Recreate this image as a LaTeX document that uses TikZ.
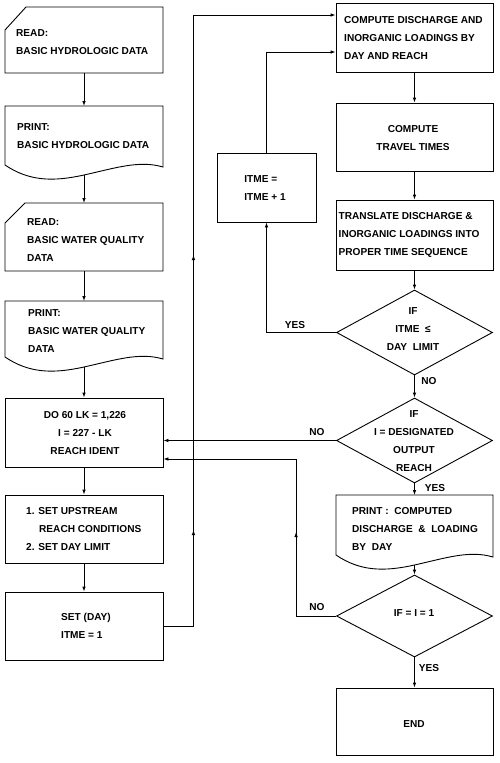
\documentclass[tikz,border=0pt]{standalone}
\usepackage{fontspec}
\setmainfont{Liberation Sans}
\usetikzlibrary{arrows.meta,shapes.geometric,decorations.markings,calc}
\newcommand\tf{\fontsize{10.1pt}{18pt}\selectfont\bfseries}
\newcommand\docshape[1]{\draw[ln] (#1.north west) -- (#1.north east) -- ([yshift=8pt]#1.south east)
  .. controls ($(#1.south west)!0.85!(#1.south east)+(0,-15)$) and ($(#1.south west)!0.7!(#1.south east)+(0,-7)$) .. (#1.south)
  .. controls ($(#1.south west)!0.3!(#1.south east)+(0,7)$) and ($(#1.south west)!0.15!(#1.south east)+(0,6)$) .. ([yshift=10pt]#1.south west) -- cycle;}
\begin{document}
\begin{tikzpicture}[x=1pt,y=-1pt,
  ln/.style={line width=0.9pt},
  box/.style={draw,rectangle,inner sep=0pt,line width=0.9pt},
  shp/.style={rectangle,inner sep=0pt,outer sep=0pt},
  dia/.style={draw,diamond,inner sep=0pt,line width=0.9pt},
  txt/.style={font=\tf,inner sep=0pt,align=left},
  tip/.tip={Latex[length=5pt,width=3.6pt]},
  arr/.style={ln,-tip},
  lcol/.style={minimum width=158pt},
  rcol/.style={minimum width=157pt}]
\fill[white] (0,0) rectangle (500,763);
\useasboundingbox (0,0) rectangle (500,763);

% left column
\node[shp,lcol,minimum height=66pt] (n1) at (84,40) {};
\draw[ln] (n1.south west) -- (n1.south east) -- (n1.north east) -- ([xshift=21pt]n1.north west) -- ([yshift=-23pt]n1.north west) -- cycle;
\node[txt,anchor=west] (t1) at (16,42) {READ:\\BASIC HYDROLOGIC DATA};

\node[shp,lcol,minimum height=69pt] (n2) at (84,140.5) {};
\docshape{n2}
\node[txt,anchor=west] (t2) at (17,136) {PRINT:\\BASIC HYDROLOGIC DATA};

\node[shp,lcol,minimum height=68pt] (n3) at (84,237) {};
\draw[ln] (n3.south west) -- (n3.south east) -- (n3.north east) -- ([xshift=20pt]n3.north west) -- ([yshift=-20pt]n3.north west) -- cycle;
\node[txt,anchor=west] (t3) at (27,240) {READ:\\BASIC WATER QUALITY\\DATA};

\node[shp,lcol,minimum height=66pt] (n4) at (84,334) {};
\docshape{n4}
\node[txt,anchor=west] (t4) at (28,331) {PRINT:\\BASIC WATER QUALITY\\DATA};

\node[box,lcol,minimum height=69pt] (n5) at (84,432.5) {};
\node[txt,align=center] (t5) at (85,433) {DO 60 LK = 1,226\\I = 227 - LK\\REACH IDENT};

\node[box,lcol,minimum height=68pt] (n6) at (84,529) {};
\node[txt,anchor=west] (t6) at (26,529) {1. SET UPSTREAM\\\hspace*{13pt}REACH CONDITIONS\\2. SET DAY LIMIT};

\node[box,lcol,minimum height=68pt] (n7) at (84,626) {};
\node[txt] (t7) at (86,626) {SET (DAY)\\ITME = 1};

% right column
\node[box,rcol,minimum height=69pt] (n8) at (414.5,37.5) {};
\node[txt,anchor=west] (t8) at (344,38) {COMPUTE DISCHARGE AND\\INORGANIC LOADINGS BY\\DAY AND REACH};

\node[box,rcol,minimum height=68pt] (n9) at (414.5,137) {};
\node[txt,align=center] (t9) at (413,138) {COMPUTE\\TRAVEL TIMES};

\node[box,rcol,minimum height=70pt] (n10) at (414.5,235) {};
\node[txt,anchor=west] (t10) at (338.5,235) {TRANSLATE DISCHARGE \&\\INORGANIC LOADINGS INTO\\PROPER TIME SEQUENCE};

\node[box,minimum width=99pt,minimum height=69pt] (nI) at (266.5,187.5) {};
\node[txt] (tI) at (265,188) {ITME =\\ITME + 1};

\node[dia,minimum width=156pt,minimum height=85pt] (d1) at (414.5,332.5) {};
\node[txt,align=center] (td1) at (413,329) {IF\\ITME~~≤\\DAY~~LIMIT};

\node[dia,minimum width=156pt,minimum height=85pt] (d2) at (414.5,440.5) {};
\node[txt,align=center] (td2) at (414,441) {IF\\I = DESIGNATED\\OUTPUT\\REACH};

\node[shp,rcol,minimum height=70pt] (n11) at (414.5,530) {};
\docshape{n11}
\node[txt,anchor=west] (t11) at (352,529) {PRINT~:~~COMPUTED\\DISCHARGE~~\&~~LOADING\\BY~~DAY};

\node[dia,minimum width=156pt,minimum height=82pt] (d3) at (414.5,616) {};
\node[txt,align=center] (td3) at (414,613) {IF = I = 1};

\node[box,rcol,minimum height=67pt] (n12) at (414.5,721.5) {};
\node[txt,align=center] (t12) at (414,724) {END};

% straight connectors
\draw[arr] (n1.south) -- (n2.north);
\draw[arr] (n2.south) -- (n3.north);
\draw[arr] (n3.south) -- (n4.north);
\draw[arr] (n4.south) -- (n5.north);
\draw[arr] (n5.south) -- (n6.north);
\draw[arr] (n6.south) -- (n7.north);
\draw[arr] (n8.south) -- (n9.north);
\draw[arr] (n9.south) -- (n10.north);
\draw[arr] (n10.south) -- (d1.north);
\draw[arr] (d1.south) -- (d2.north);
\draw[arr] (d2.south) -- (n11.north);
\draw[arr] (n11.south) -- (d3.north);
\draw[arr] (d3.south) -- (n12.north);

% loops
\draw[arr,postaction={decorate},decoration={markings,
   mark=at position 126pt with {\arrow{tip}},
   mark=at position 401pt with {\arrow{tip}}}]
   (n7.east) -- ++(30,0) |- ([yshift=22.5pt]n8.west);
\draw[arr] (nI.north) |- ([yshift=-14.5pt]n8.west);
\draw[arr] (d1.west) -| (nI.south);
\draw[arr] (d2.west) -- (d2.west -| n5.east);
\draw[arr,postaction={decorate},decoration={markings,
   mark=at position 124pt with {\arrow{tip}}}]
   (d3.west) -- ++(-40,0) |- ([yshift=-26.5pt]n5.east);

% labels
\node[txt] (l1) at (295,325) {YES};
\node[txt] (l2) at (429,381) {NO};
\node[txt] (l3) at (317,432) {NO};
\node[txt] (l4) at (435,488) {YES};
\node[txt] (l5) at (317,607) {NO};
\node[txt] (l6) at (429,668) {YES};
\end{tikzpicture}
\end{document}
